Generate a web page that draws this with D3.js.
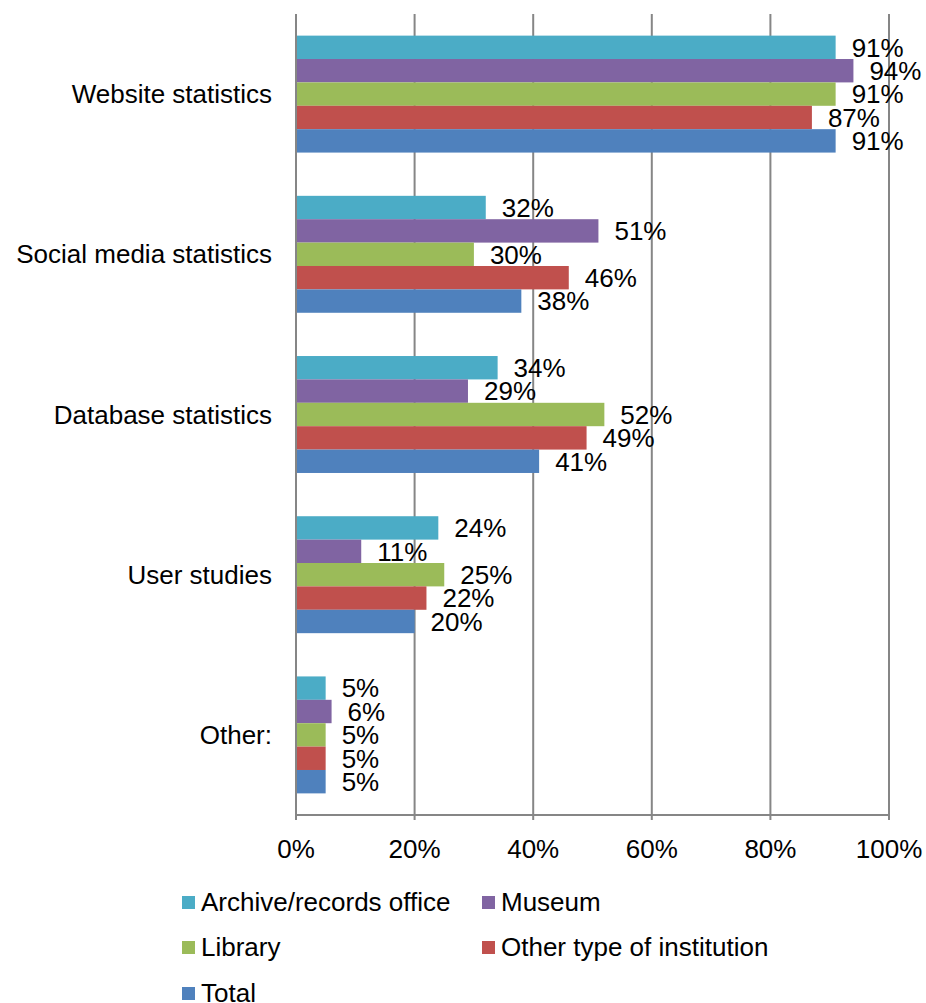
<!DOCTYPE html>
<html><head><meta charset="utf-8">
<script src="https://cdn.jsdelivr.net/npm/d3@7"></script>
<style>body{margin:0;background:#fff}svg{display:block}text{font-family:"Liberation Sans",Arial,sans-serif;fill:#000}</style>
</head><body>
<script>
const categories = ["Website statistics","Social media statistics","Database statistics","User studies","Other:"];
const seriesNames = ["Archive/records office","Museum","Library","Other type of institution","Total"];
const archive = [91,32,34,24,5];
const museum = [94,51,29,11,6];
const library = [91,30,52,25,5];
const otherInst = [87,46,49,22,5];
const total = [91,38,41,20,5];
const xTicks = [0,20,40,60,80,100];
const colors = ["#4BACC6","#8064A2","#9BBB59","#C0504D","#4F81BD"];
const seriesValues = [archive,museum,library,otherInst,total];

(function(){
const W=926,H=1003;
const svg=d3.select("body").append("svg").attr("width",W).attr("height",H);
const pLeft=296,pRight=889,pTop=14,pBottom=815;
const x=d3.scaleLinear().domain([0,100]).range([pLeft,pRight]);
const y=d3.scaleBand().domain(categories).range([pTop,pBottom]).paddingInner(0.27).paddingOuter(0.135);
const ys=d3.scaleBand().domain(seriesNames).range([0,y.bandwidth()]);
const fs=26;
const grid="#868686";

svg.append("g").selectAll("line").data(xTicks).join("line")
  .attr("x1",d=>x(d)).attr("x2",d=>x(d)).attr("y1",pTop).attr("y2",pBottom+5)
  .attr("stroke",grid).attr("stroke-width",2);
svg.append("line").attr("x1",pLeft).attr("x2",pRight).attr("y1",pBottom).attr("y2",pBottom).attr("stroke",grid).attr("stroke-width",2);

svg.append("g").selectAll("text").data(xTicks).join("text")
  .attr("x",d=>x(d)).attr("y",pBottom+43).attr("text-anchor","middle").attr("font-size",fs)
  .text(d=>d+"%");

svg.append("g").selectAll("text").data(categories).join("text")
  .attr("x",pLeft-24).attr("y",d=>y(d)+y.bandwidth()/2).attr("dy","0.35em")
  .attr("text-anchor","end").attr("font-size",fs).text(d=>d);

const rows=[];
categories.forEach((c,i)=>seriesNames.forEach((s,j)=>rows.push({c,s,j,v:seriesValues[j][i]})));
svg.append("g").selectAll("rect").data(rows).join("rect")
  .attr("x",x(0)).attr("y",d=>y(d.c)+ys(d.s)).attr("width",d=>x(d.v)-x(0)).attr("height",ys.bandwidth())
  .attr("fill",d=>colors[d.j]);
svg.append("g").selectAll("text").data(rows).join("text")
  .attr("x",d=>x(d.v)+16).attr("y",d=>y(d.c)+ys(d.s)+ys.bandwidth()/2).attr("dy","0.36em")
  .attr("font-size",fs).text(d=>d.v+"%");

svg.append("line").attr("x1",pLeft).attr("x2",pLeft).attr("y1",pTop).attr("y2",pBottom).attr("stroke",grid).attr("stroke-width",2);

const legPos=[[182,902],[482,902],[182,947],[482,947],[182,993]];
const lg=svg.append("g").selectAll("g").data(seriesNames).join("g")
  .attr("transform",(d,i)=>`translate(${legPos[i][0]},${legPos[i][1]})`);
lg.append("rect").attr("x",0).attr("y",-6).attr("width",13).attr("height",13).attr("fill",(d,i)=>colors[i]);
lg.append("text").attr("x",19).attr("y",0).attr("dy","0.35em").attr("font-size",fs).text(d=>d);
})();
</script>
</body></html>
